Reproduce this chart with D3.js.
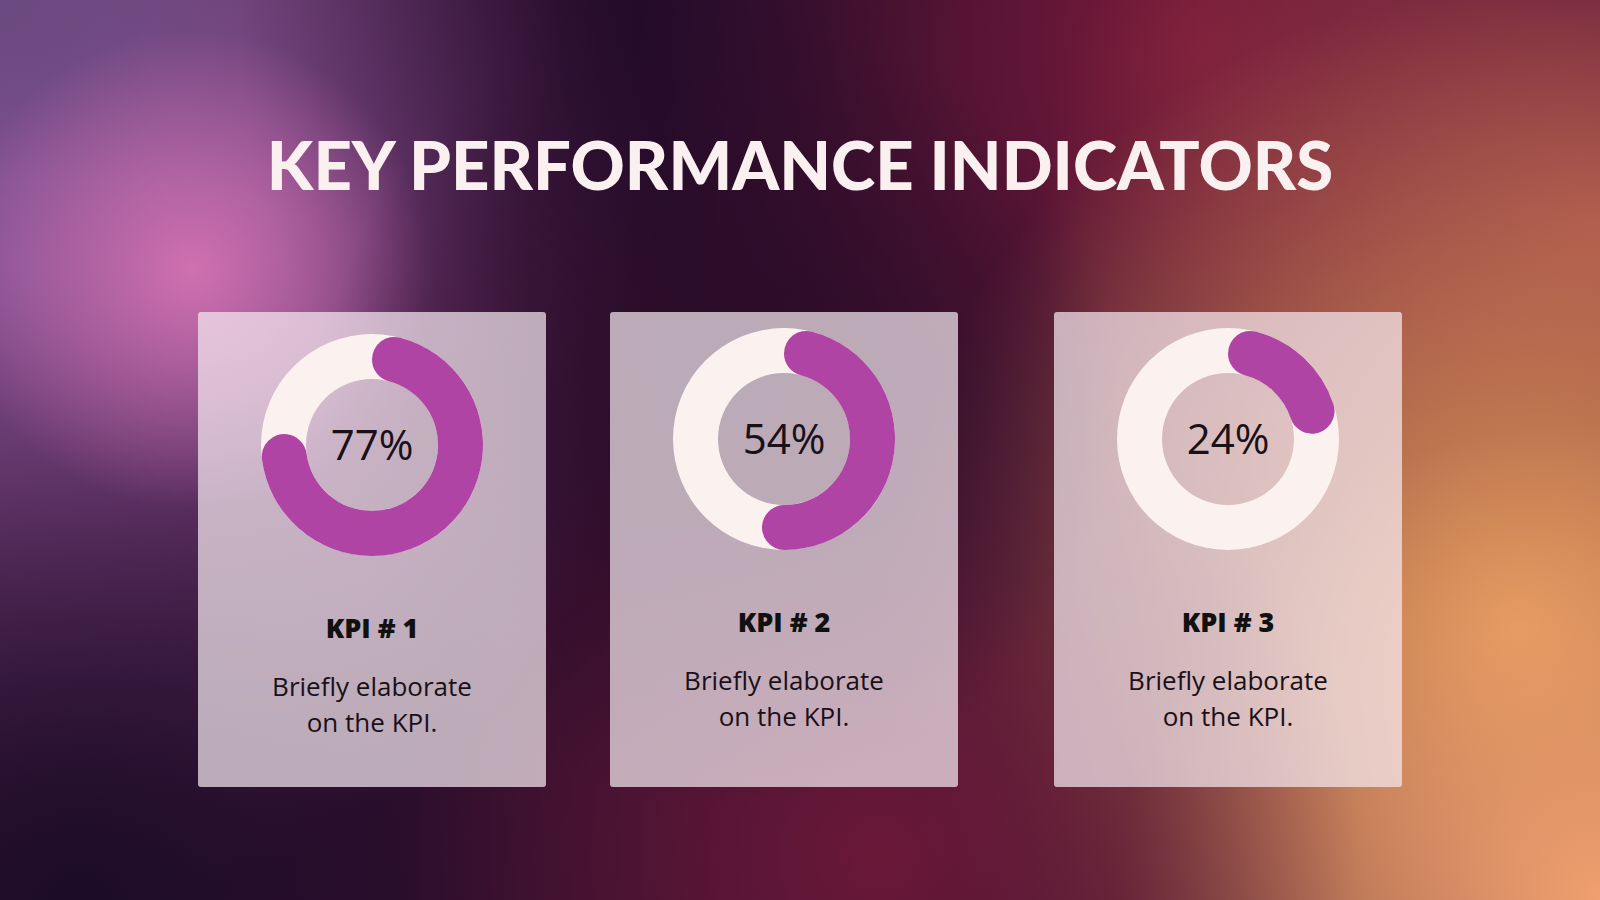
<!DOCTYPE html>
<html><head><meta charset="utf-8">
<script src="https://cdn.jsdelivr.net/npm/d3@7"></script>
<style>body{margin:0;background:#2a0f2e;}svg{display:block}</style>
</head><body><svg id="chart"></svg>
<script>
var W = 1600, H = 900;
var kpiNames = ["KPI # 1", "KPI # 2", "KPI # 3"];
var kpiValues = [0.77, 0.54, 0.24];
var kpiNotes = [["Briefly elaborate", "on the KPI."], ["Briefly elaborate", "on the KPI."], ["Briefly elaborate", "on the KPI."]];
var cardOffsets = [6, 0, 0];
var cardLefts = [198, 610, 1054];

var svg = d3.select("#chart").attr("width", W).attr("height", H);
var defs = svg.append("defs");

// background blobs
svg.append("rect").attr("width", W).attr("height", H).attr("fill", "#3a1030");
var blobs = [
  {id: "b1", cx: 0.02, cy: 0.3, r: 0.4, c: "#c070c8"},
  {id: "b2", cx: 0.0, cy: 0.0, r: 0.35, c: "#6a4a80"},
  {id: "b3", cx: 0.5, cy: 0.05, r: 0.35, c: "#1a0a28"},
  {id: "b4", cx: 0.05, cy: 1.0, r: 0.45, c: "#1c0c28"},
  {id: "b5", cx: 0.75, cy: 0.05, r: 0.35, c: "#7a1a3a"},
  {id: "b6", cx: 1.0, cy: 0.25, r: 0.35, c: "#9a4048"},
  {id: "b7", cx: 0.95, cy: 0.7, r: 0.4, c: "#e09858"},
  {id: "b8", cx: 1.0, cy: 1.0, r: 0.3, c: "#f0a070"},
  {id: "b9", cx: 0.55, cy: 0.95, r: 0.3, c: "#6a1838"},
  {id: "b10", cx: 0.12, cy: 0.3, r: 0.15, c: "#d070b0"},
  {id: "b11", cx: 0.45, cy: 0.45, r: 0.25, c: "#2a0c28"}
];
blobs.forEach(function(b) {
  var g = defs.append("radialGradient").attr("id", b.id)
    .attr("gradientUnits", "userSpaceOnUse")
    .attr("cx", b.cx * W).attr("cy", b.cy * H).attr("r", b.r * W);
  g.append("stop").attr("offset", 0).attr("stop-color", b.c).attr("stop-opacity", 1);
  g.append("stop").attr("offset", 1).attr("stop-color", b.c).attr("stop-opacity", 0);
  svg.append("rect").attr("width", W).attr("height", H).attr("fill", "url(#" + b.id + ")");
});

svg.append("text").attr("x", 800).attr("y", 190).attr("text-anchor", "middle")
  .attr("font-family", "Lato, 'Open Sans', sans-serif").attr("font-weight", 900)
  .attr("font-size", 67).attr("fill", "#fbf0f0").text("KEY PERFORMANCE INDICATORS");

var x = d3.scaleOrdinal().domain(kpiNames).range(cardLefts);
var cardW = 348;
var arc = d3.arc().innerRadius(66).outerRadius(111).cornerRadius(22.5);

var cards = svg.selectAll("g.card").data(kpiNames).enter().append("g")
  .attr("transform", function(d) { return "translate(" + x(d) + ",312)"; });
cards.append("rect").attr("width", cardW).attr("height", 475).attr("rx", 3)
  .attr("fill", "#f4e8ee").attr("fill-opacity", 0.72);

var cx = cardW / 2;
var donut = cards.append("g").attr("transform", function(d, i) {
  return "translate(" + cx + "," + (127 + cardOffsets[i]) + ")"; });
donut.append("path").attr("fill", "#fbf2f0")
  .attr("d", d3.arc().innerRadius(66).outerRadius(111)({startAngle: 0, endAngle: 2 * Math.PI}));
donut.append("path").attr("fill", "#b044a4")
  .attr("d", function(d, i) { return arc({startAngle: 0, endAngle: kpiValues[i] * 2 * Math.PI}); });
donut.append("text").attr("text-anchor", "middle").attr("dy", 15)
  .attr("font-family", "'Open Sans', sans-serif").attr("font-size", 42).attr("fill", "#1a1018")
  .text(function(d, i) { return Math.round(kpiValues[i] * 100) + "%"; });

cards.append("text").attr("x", cx).attr("y", function(d, i) { return 320 + cardOffsets[i]; })
  .attr("text-anchor", "middle").attr("font-family", "'Open Sans', sans-serif")
  .attr("font-weight", 800).attr("font-size", 27).attr("fill", "#111").text(function(d) { return d; });
cards.each(function(d, i) {
  d3.select(this).selectAll("text.note").data(kpiNotes[i]).enter().append("text")
    .attr("class", "note").attr("x", cx)
    .attr("y", function(t, j) { return 378 + cardOffsets[i] + j * 36; })
    .attr("text-anchor", "middle").attr("font-family", "'Open Sans', sans-serif")
    .attr("font-size", 26).attr("fill", "#1a1018").text(function(t) { return t; });
});
</script></body></html>
